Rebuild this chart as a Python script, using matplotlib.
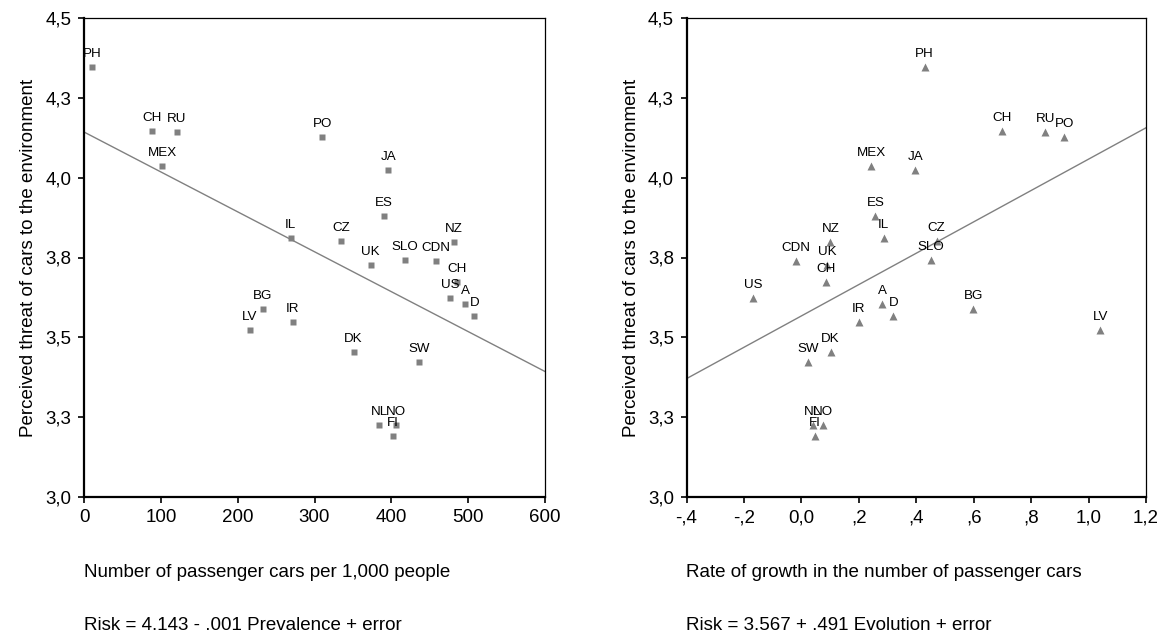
import numpy as np
import matplotlib
matplotlib.use('Agg')
from matplotlib import pyplot as plt

plt.rcParams['font.family'] = ['Liberation Sans', 'DejaVu Sans']

country = ['PH', 'CH', 'RU', 'MEX', 'PO', 'JA', 'ES', 'IL', 'CZ', 'UK', 'SLO', 'CDN', 'NZ',
           'CH', 'US', 'A', 'D', 'BG', 'LV', 'IR', 'DK', 'SW', 'NL', 'NO', 'FI']
risk = [4.346, 4.147, 4.142, 4.035, 4.128, 4.024, 3.880, 3.811, 3.801, 3.728, 3.742, 3.738, 3.798,
        3.673, 3.623, 3.603, 3.568, 3.588, 3.524, 3.548, 3.454, 3.424, 3.227, 3.227, 3.191]
cars_per_1000 = [11, 88, 121, 102, 310, 396, 390, 269, 335, 373, 418, 458, 481,
                 485, 477, 496, 508, 233, 216, 272, 351, 436, 384, 406, 402]
growth = [0.429, 0.698, 0.850, 0.243, 0.915, 0.396, 0.258, 0.287, 0.471, 0.089, 0.451, -0.019, 0.101,
          0.085, -0.167, 0.281, 0.320, 0.599, 1.041, 0.200, 0.102, 0.024, 0.040, 0.074, 0.046]

# fitted lines (intercept, slope)
fit_left = (4.143, -0.00125)
fit_right = (3.567, 0.491)

y_ticks = [3.0, 3.25, 3.5, 3.75, 4.0, 4.25, 4.5]
y_labels = ['3,0', '3,3', '3,5', '3,8', '4,0', '4,3', '4,5']
x1_ticks = [0, 100, 200, 300, 400, 500, 600]
x1_labels = ['0', '100', '200', '300', '400', '500', '600']
x2_ticks = [-0.4, -0.2, 0.0, 0.2, 0.4, 0.6, 0.8, 1.0, 1.2]
x2_labels = ['-,4', '-,2', '0,0', ',2', ',4', ',6', ',8', '1,0', '1,2']

ylab = 'Perceived threat of cars to the environment'
grey = '#808080'

W, H = 1165, 637
fig = plt.figure(figsize=(W / 100, H / 100), dpi=100)
ax1 = fig.add_axes([84 / W, 140 / H, 461 / W, 479 / H])
ax2 = fig.add_axes([686.5 / W, 140 / H, 459.5 / W, 479 / H])


def setup(ax, x, marker, ms, fit, xt, xl):
    ax.plot(x, risk, linestyle='none', marker=marker, ms=ms, color=grey, mec='none', zorder=2)
    for xi, yi, c in zip(x, risk, country):
        ax.annotate(c, (xi, yi), xytext=(0, 10), textcoords='offset pixels',
                    ha='center', va='baseline', fontsize=9.6, zorder=3)
    lo, hi = xt[0], xt[-1]
    ax.plot([lo, hi], [fit[0] + fit[1] * lo, fit[0] + fit[1] * hi], color=grey, lw=1.0, zorder=1)
    ax.set_xlim(lo, hi)
    ax.set_ylim(3.0, 4.5)
    ax.set_xticks(xt)
    ax.set_xticklabels(xl)
    ax.set_yticks(y_ticks)
    ax.set_yticklabels(y_labels)
    ax.tick_params(labelsize=13.5, length=4, width=1.2, pad=5, color='black')
    ax.spines['left'].set_linewidth(1.6)
    ax.spines['bottom'].set_linewidth(1.6)
    ax.spines['top'].set_linewidth(0.9)
    ax.spines['right'].set_linewidth(0.9)
    ax.set_ylabel(ylab, fontsize=13.5, labelpad=6)


setup(ax1, cars_per_1000, 's', 4.4, fit_left, x1_ticks, x1_labels)
setup(ax2, growth, '^', 5.6, fit_right, x2_ticks, x2_labels)

fig.text(84 / W, 1 - 577 / H, 'Number of passenger cars per 1,000 people', fontsize=13.5, va='baseline')
fig.text(84 / W, 1 - 630 / H, 'Risk = 4.143 - .001 Prevalence + error', fontsize=13.5, va='baseline')
fig.text(686.5 / W, 1 - 577 / H, 'Rate of growth in the number of passenger cars', fontsize=13.5, va='baseline')
fig.text(686.5 / W, 1 - 630 / H, 'Risk = 3.567 + .491 Evolution + error', fontsize=13.5, va='baseline')

fig.savefig('out.png', dpi=100)
